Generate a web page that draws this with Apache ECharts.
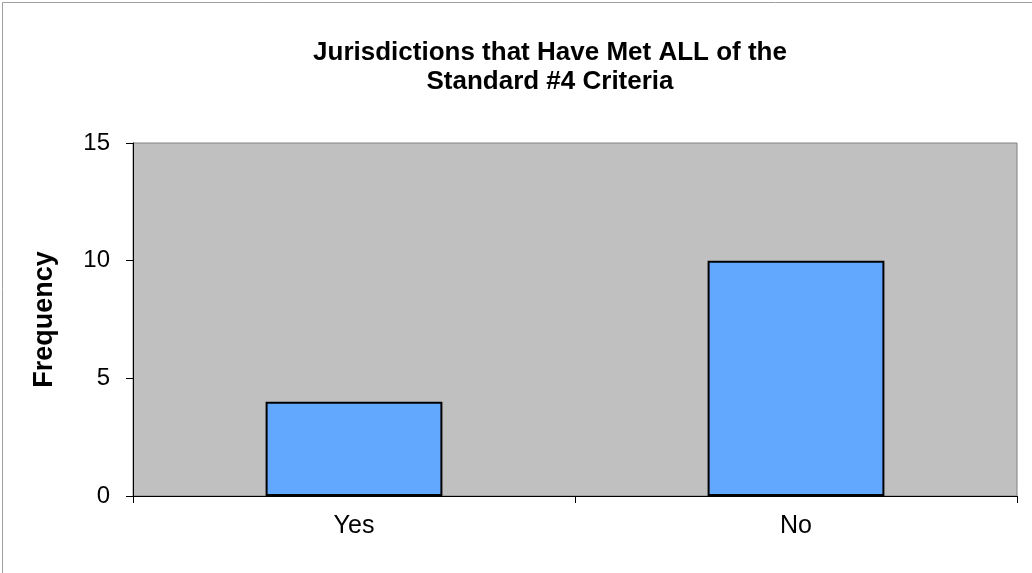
<!DOCTYPE html>
<html>
<head>
<meta charset="utf-8">
<script src="https://cdn.jsdelivr.net/npm/echarts@6/dist/echarts.min.js"></script>
<style>
html,body{margin:0;padding:0;background:#fff;}
#chart{width:1032px;height:573px;}
</style>
</head>
<body>
<div id="chart"></div>
<script>
const categories = ['Yes', 'No'];
const frequencies = [4, 10];
const yTicks = [0, 5, 10, 15];
const titleLines = ['Jurisdictions that Have Met ALL of the', 'Standard #4 Criteria'];
const yAxisName = 'Frequency';

const chart = echarts.init(document.getElementById('chart'), null, {renderer: 'canvas'});
const FONT = 'Liberation Sans, Arial, sans-serif';
chart.setOption({
  animation: false,
  backgroundColor: '#ffffff',
  graphic: [
    {type: 'rect', shape: {x: 2.5, y: 2.5, width: 1100, height: 700},
     style: {fill: 'none', stroke: '#a0a0a0', lineWidth: 1}, silent: true},
    {type: 'text', x: 550, y: 38,
     style: {text: titleLines.join('\n'), textAlign: 'center', textVerticalAlign: 'top',
             fontFamily: FONT, fontWeight: 'bold', fontSize: 26, lineHeight: 29, fill: '#000'}}
  ],
  grid: {
    left: 133, right: 15, top: 143, bottom: 77,
    show: true, backgroundColor: '#c0c0c0', borderColor: '#808080', borderWidth: 1,
    containLabel: false
  },
  xAxis: {
    type: 'category',
    data: categories,
    axisLine: {show: true, lineStyle: {color: '#000', width: 1}},
    axisTick: {show: true, alignWithLabel: false, length: 7, lineStyle: {color: '#000'}},
    axisLabel: {color: '#000', fontFamily: FONT, fontSize: 25, margin: 18},
    splitLine: {show: false}
  },
  yAxis: {
    type: 'value',
    min: yTicks[0], max: yTicks[yTicks.length - 1], interval: yTicks[1] - yTicks[0],
    name: yAxisName, nameLocation: 'middle', nameRotate: 90, nameGap: 75,
    nameTextStyle: {color: '#000', fontFamily: FONT, fontSize: 27, fontWeight: 'bold'},
    axisLine: {show: true, lineStyle: {color: '#000', width: 1}},
    axisTick: {show: true, length: 7, lineStyle: {color: '#000'}},
    axisLabel: {color: '#000', fontFamily: FONT, fontSize: 24, margin: 23},
    splitLine: {show: false}
  },
  series: [{
    type: 'bar',
    data: frequencies,
    barCategoryGap: '60%',
    itemStyle: {color: '#63a8ff', borderColor: '#000', borderWidth: 2}
  }]
});
</script>
</body>
</html>
